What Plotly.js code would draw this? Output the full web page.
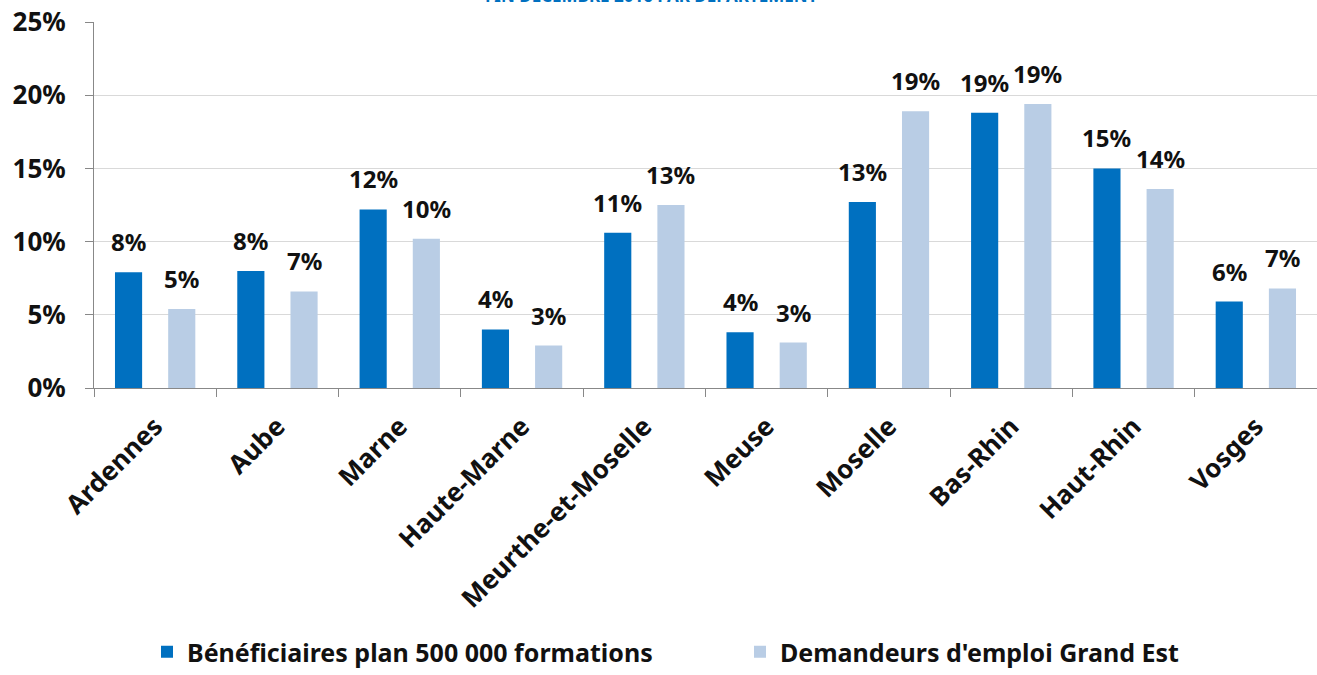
<!DOCTYPE html>
<html>
<head>
<meta charset="utf-8">
<script src="https://cdn.plot.ly/plotly-3.0.1.min.js"></script>
<style>html,body{margin:0;padding:0;background:#fff;}#chart{width:1317px;height:675px;}</style>
</head>
<body>
<div id="chart"></div>
<script>
var categories = ["Ardennes","Aube","Marne","Haute-Marne","Meurthe-et-Moselle","Meuse","Moselle","Bas-Rhin","Haut-Rhin","Vosges"];
var seriesNames = ["Bénéficiaires plan 500 000 formations","Demandeurs d'emploi Grand Est"];
var beneficiaires = [7.9, 8.0, 12.2, 4.0, 10.6, 3.8, 12.7, 18.8, 15.0, 5.9];
var demandeurs = [5.4, 6.6, 10.2, 2.9, 12.5, 3.1, 18.9, 19.4, 13.6, 6.8];
var yTicks = [0, 5, 10, 15, 20, 25];
var titleText = "FIN DÉCEMBRE 2016 PAR DÉPARTEMENT";

var FONT = "Noto Sans, Open Sans, sans-serif";
var COLORS = ["#0070C0", "#B9CDE5"];
var series = [beneficiaires, demandeurs];

var data = series.map(function(vals, i) {
  return {
    type: "bar", name: seriesNames[i], x: categories, y: vals,
    marker: {color: COLORS[i]},
    legend: i === 0 ? "legend" : "legend2",
    hoverinfo: "x+y"
  };
});

var annotations = [];
series.forEach(function(vals, i) {
  vals.forEach(function(v, j) {
    annotations.push({
      x: categories[j], y: v, xref: "x", yref: "y",
      text: Math.round(v) + "%", showarrow: false,
      xanchor: "center", yanchor: "bottom",
      xshift: i === 0 ? -26.6 : 26.6, yshift: 12,
      font: {family: FONT, size: 24, weight: 700, color: "#111"}
    });
  });
});
annotations.push({
  text: titleText, xref: "paper", yref: "paper", x: 0.456, xanchor: "center",
  y: 1, yanchor: "bottom", yshift: 13, showarrow: false,
  font: {family: FONT, size: 17, color: "#0070C0", weight: 700}
});

var legendFont = {family: FONT, size: 25, weight: 700, color: "#111"};
var layout = {
  width: 1317, height: 675,
  margin: {l: 94, r: 0, t: 22, b: 287, autoexpand: false},
  paper_bgcolor: "#fff", plot_bgcolor: "#fff",
  barmode: "group", bargap: 0.13, bargroupgap: 0.49,
  font: {family: FONT, color: "#111"},
  xaxis: {
    type: "category", tickson: "boundaries", ticks: "outside", ticklen: 8,
    tickcolor: "#888", showline: true, linecolor: "#888", linewidth: 1,
    tickangle: -45, automargin: false, ticklabelstandoff: 12,
    tickfont: {family: FONT, size: 26, weight: 700, color: "#111"},
    showgrid: false
  },
  yaxis: {
    range: [0, 25], tickvals: yTicks, ticktext: yTicks.map(function(v){return v + "%";}),
    ticks: "outside", ticklen: 8, tickcolor: "#888", automargin: false,
    ticklabelstandoff: 14,
    showline: true, linecolor: "#888", linewidth: 1,
    gridcolor: "#d9d9d9", zeroline: false,
    tickfont: {family: FONT, size: 26, weight: 700, color: "#111"}
  },
  legend: {
    orientation: "h", xref: "container", yref: "container",
    x: 147 / 1317, xanchor: "left", y: 0, yanchor: "bottom",
    font: legendFont, itemwidth: 30, bgcolor: "rgba(0,0,0,0)"
  },
  legend2: {
    orientation: "h", xref: "container", yref: "container",
    x: 740 / 1317, xanchor: "left", y: 0, yanchor: "bottom",
    font: legendFont, itemwidth: 30, bgcolor: "rgba(0,0,0,0)"
  },
  annotations: annotations,
  showlegend: true
};
Plotly.newPlot("chart", data, layout, {displayModeBar: false, staticPlot: true});
</script>
</body>
</html>
